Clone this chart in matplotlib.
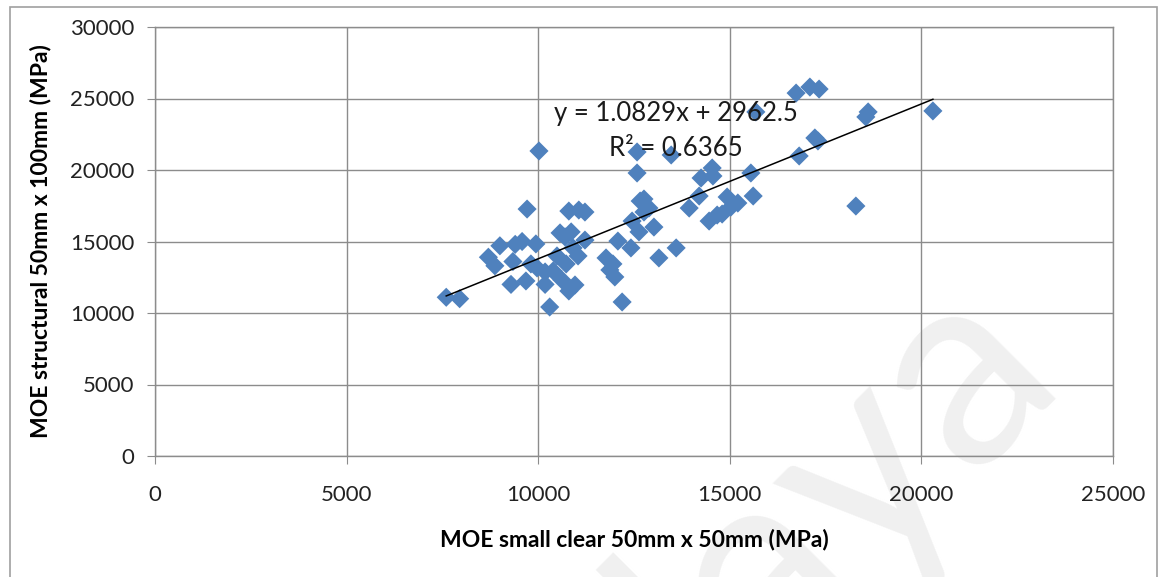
import numpy as np
import matplotlib.pyplot as plt
from matplotlib.patches import Rectangle

plt.rcParams['font.family'] = ['Lato', 'DejaVu Sans']

# MOE small clear 50x50 (x) vs MOE structural 50x100 (y), MPa
moe_small = [7600, 7950, 8700, 8870, 9000, 9290, 9340, 9400, 9580, 9680,
             9710, 9810, 9940, 10020, 9970, 10180, 10180, 10300, 10390, 10490,
             10570, 10620, 10700, 10730, 10800, 10800, 10860, 10910, 10960, 11040,
             11060, 11220, 11220, 11770, 11870, 11950, 12000, 12080, 12190, 12420,
             12450, 12580, 12580, 12630, 12660, 12760, 12760, 12890, 13020, 13150,
             13470, 13600, 13940, 14200, 14250, 14460, 14540, 14560, 14670, 14800,
             14930, 15030, 15210, 15550, 15610, 15680, 16730, 16810, 17090, 17330,
             17220, 17300, 18290, 18550, 18610, 20300]
moe_struct = [11100, 11000, 13900, 13300, 14700, 12000, 13600, 14800, 15000, 12240,
              17270, 13430, 14830, 21330, 13150, 12000, 12870, 10420, 12940, 13990,
              15600, 12310, 15320, 13430, 17130, 11540, 15670, 14550, 11960, 13990,
              17200, 17060, 15100, 13850, 13010, 13430, 12520, 15030, 10770, 14550,
              16430, 21260, 19790, 15670, 17830, 17060, 17970, 17340, 16010, 13850,
              21050, 14550, 17340, 18180, 19440, 16430, 20140, 19580, 16850, 16920,
              18110, 17410, 17690, 19790, 18180, 24060, 25380, 20980, 25800, 25660,
              22240, 22030, 17480, 23710, 24060, 24130]

slope = 1.0829
intercept = 2962.5
r2 = 0.6365

x_ticks = [0, 5000, 10000, 15000, 20000, 25000]
y_ticks = [0, 5000, 10000, 15000, 20000, 25000, 30000]

grey = '#8c8c8c'

fig = plt.figure(figsize=(11.59, 5.77), dpi=100)
ax = fig.add_axes([155/1159, 1 - 456/577, (1113-155)/1159, (456-27)/577])

# outer chart border
fig.patches.append(Rectangle((10/1159, -0.02), (1157-10)/1159, 1.02 - 7/577,
                             transform=fig.transFigure, fill=False,
                             edgecolor='#a0a0a0', lw=1.2, zorder=0))
# faint watermark
fig.text(0.60, -0.08, 'Malaya', rotation=45, fontsize=200, color='#f0f0f0',
         ha='center', va='center', zorder=-1)

ax.set_facecolor('none')
ax.scatter(moe_small, moe_struct, marker='D', s=95, color='#4f81bd',
           edgecolors='none', zorder=3)

xl = np.array([min(moe_small), max(moe_small)])
ax.plot(xl, slope * xl + intercept, color='black', lw=1.1, zorder=4)

ax.text(13596, 23986, 'y = %.4fx + %.1f' % (slope, intercept), fontsize=18.5,
        ha='center', va='center', color='#1a1a1a', zorder=5)
ax.text(13596, 21538, 'R² = %.4f' % r2, fontsize=18.5,
        ha='center', va='center', color='#1a1a1a', zorder=5)

ax.set_xlim(0, 25000)
ax.set_ylim(0, 30000)
ax.set_xticks(x_ticks)
ax.set_yticks(y_ticks)
ax.grid(True, color=grey, lw=1)
ax.set_axisbelow(True)
for s in ax.spines.values():
    s.set_color(grey)
    s.set_linewidth(1)
ax.tick_params(colors=grey, labelcolor='#222222', labelsize=16, length=6)
ax.tick_params(axis='x', pad=15)
ax.tick_params(axis='y', pad=9)

ax.set_xlabel('MOE small clear 50mm x 50mm (MPa)', fontsize=16.5,
              fontweight='bold', labelpad=17)
ax.set_ylabel('MOE structural 50mm x 100mm (MPa)', fontsize=16.5,
              fontweight='bold', labelpad=13)

fig.savefig('out.png', dpi=100)
